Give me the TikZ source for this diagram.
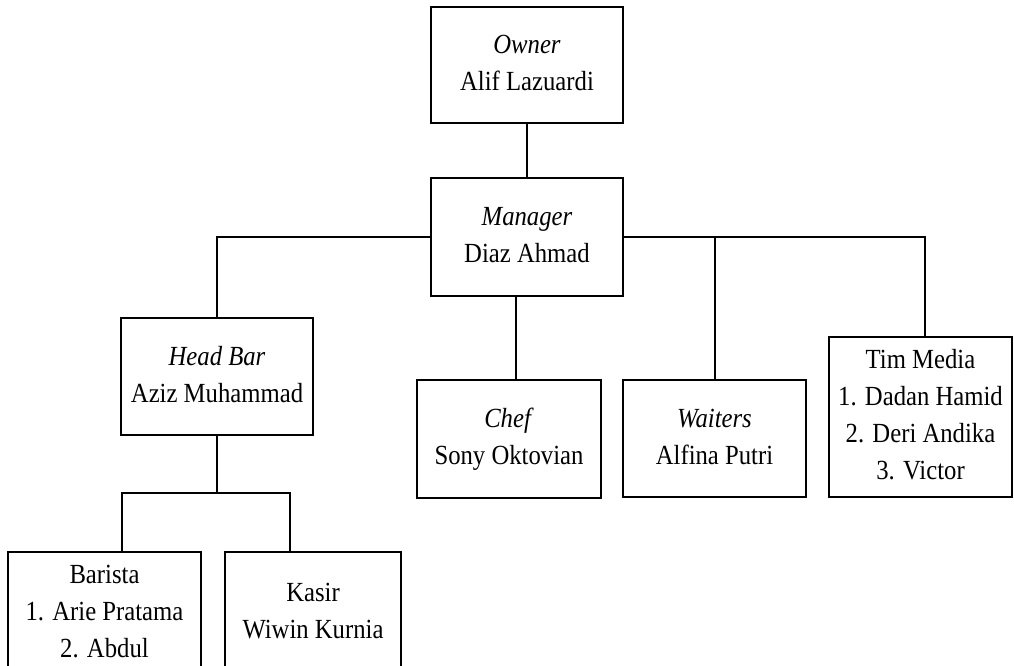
\documentclass[tikz,border=0pt]{standalone}
\usepackage{graphicx}
\usepackage{fontspec}
\setmainfont{Liberation Serif}
\newcommand\lbl[1]{\scalebox{1}[1.12]{\fontsize{24.7}{33}\selectfont\begin{tabular}{@{}c@{}}#1\end{tabular}}}
\tikzset{
  orgbox/.style={draw, line width=1.3pt, rectangle, inner sep=0pt, align=center},
  link/.style={line width=1.3pt}
}
\begin{document}
\begin{tikzpicture}[x=1pt, y=-1pt]
\useasboundingbox (0,0) rectangle (1014,666);
\clip (0,0) rectangle (1014,666);
\node[orgbox, minimum width=192pt, minimum height=116pt] (owner) at (527,65) {\lbl{\textit{Owner}\\Alif Lazuardi}};
\node[orgbox, minimum width=192pt, minimum height=118pt] (manager) at (527,237) {\lbl{\textit{Manager}\\Diaz Ahmad}};
\node[orgbox, minimum width=192pt, minimum height=117pt] (headbar) at (217,376.5) {\lbl{\textit{Head Bar}\\Aziz Muhammad}};
\node[orgbox, minimum width=184pt, minimum height=118pt] (chef) at (509,439) {\lbl{\textit{Chef}\\Sony Oktovian}};
\node[orgbox, minimum width=183pt, minimum height=117pt] (waiters) at (714.5,438.5) {\lbl{\textit{Waiters}\\Alfina Putri}};
\node[orgbox, minimum width=183pt, minimum height=160pt] (tim) at (920.5,417) {\lbl{Tim Media\\1. Dadan Hamid\\2. Deri Andika\\3. Victor}};
\node[orgbox, minimum width=193pt, minimum height=122pt] (barista) at (104.5,613) {\lbl{Barista\\1. Arie Pratama\\2. Abdul}};
\node[orgbox, minimum width=176pt, minimum height=122pt] (kasir) at (313,613) {\lbl{Kasir\\Wiwin Kurnia}};
\coordinate (chefx) at (516,0);
\coordinate (waitx) at (715,0);
\coordinate (timx) at (925,0);
\coordinate (hbj) at (217,493);
\coordinate (barx) at (122,493);
\coordinate (kasx) at (290,493);
\draw[link] (owner.south) -- (manager.north);
\draw[link] (manager.west) -| (headbar.north);
\draw[link] (manager.east) -| (timx |- tim.north);
\draw[link] (waitx |- manager.east) -- (waitx |- waiters.north);
\draw[link] (chefx |- manager.south) -- (chefx |- chef.north);
\draw[link] (headbar.south) -- (hbj);
\draw[link] (barx |- barista.north) -- (barx) -- (kasx) -- (kasx |- kasir.north);
\end{tikzpicture}
\end{document}
